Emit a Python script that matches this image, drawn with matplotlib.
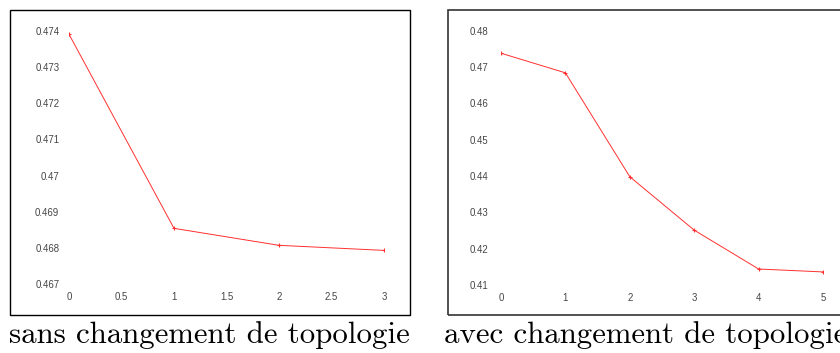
import matplotlib
matplotlib.use('Agg')
import matplotlib.pyplot as plt
from matplotlib.patches import Rectangle

# data
x_sans = [0, 1, 2, 3]
y_sans = [0.47391, 0.46854, 0.46807, 0.46793]
x_avec = [0, 1, 2, 3, 4, 5]
y_avec = [0.4738, 0.4684, 0.4398, 0.4251, 0.4144, 0.4136]

sans_xticks = [0, 0.5, 1, 1.5, 2, 2.5, 3]
sans_xlabels = ['0', '0.5', '1', '1.5', '2', '2.5', '3']
sans_yticks = [0.467, 0.468, 0.469, 0.470, 0.471, 0.472, 0.473, 0.474]
sans_ylabels = ['0.467', '0.468', '0.469', '0.47', '0.471', '0.472', '0.473', '0.474']
avec_xticks = [0, 1, 2, 3, 4, 5]
avec_yticks = [0.41, 0.42, 0.43, 0.44, 0.45, 0.46, 0.47, 0.48]
avec_ylabels = ['0.41', '0.42', '0.43', '0.44', '0.45', '0.46', '0.47', '0.48']

captions = ['sans changement de topologie', 'avec changement de topologie']

W, H = 840, 353
fig = plt.figure(figsize=(W / 100, H / 100), dpi=100)


def px_axes(x0, y0, x1, y1):
    # pixel box (top-left origin) -> figure axes
    return fig.add_axes([x0 / W, 1 - y1 / H, (x1 - x0) / W, (y1 - y0) / H])


def frame(x0, y0, x1, y1, lw=1.0, color='black'):
    fig.patches.append(Rectangle((x0 / W, 1 - y1 / H), (x1 - x0) / W, (y1 - y0) / H,
                                 transform=fig.transFigure, fill=False,
                                 edgecolor=color, linewidth=lw))


def style(ax):
    for s in ax.spines.values():
        s.set_visible(False)
    ax.tick_params(length=0, labelsize=6.9, labelcolor='#444444')
    for lab in ax.get_xticklabels() + ax.get_yticklabels():
        lab.set_fontfamily('Liberation Sans')
    ax.patch.set_alpha(0)


frame(10, 10, 410, 315)
frame(448, 10, 900, 315, lw=1.2, color='#333333')

line_kw = dict(color='#ff3030', lw=0.7, marker='+', ms=3, mew=0.8)

ax1 = px_axes(69, 31, 384, 284)
ax1.plot(x_sans, y_sans, **line_kw)
ax1.set_xlim(0, 3)
ax1.set_ylim(0.467, 0.474)
ax1.set_xticks(sans_xticks, sans_xlabels)
ax1.set_yticks(sans_yticks, sans_ylabels)
ax1.tick_params(axis='x', pad=6)
ax1.tick_params(axis='y', pad=7)
style(ax1)

ax2 = px_axes(501, 30.7, 823, 285)
ax2.plot(x_avec, y_avec, **line_kw)
ax2.set_xlim(0, 5)
ax2.set_ylim(0.41, 0.48)
ax2.set_xticks(avec_xticks, [str(v) for v in avec_xticks])
ax2.set_yticks(avec_yticks, avec_ylabels)
ax2.tick_params(axis='x', pad=6)
ax2.tick_params(axis='y', pad=9)
style(ax2)

fig.text(9 / W, 1 - 343 / H, captions[0], fontfamily='cmr10', fontsize=22.2,
         ha='left', va='baseline')
fig.text(444 / W, 1 - 343 / H, captions[1], fontfamily='cmr10', fontsize=22.2,
         ha='left', va='baseline')

fig.savefig('out.png', dpi=100)
